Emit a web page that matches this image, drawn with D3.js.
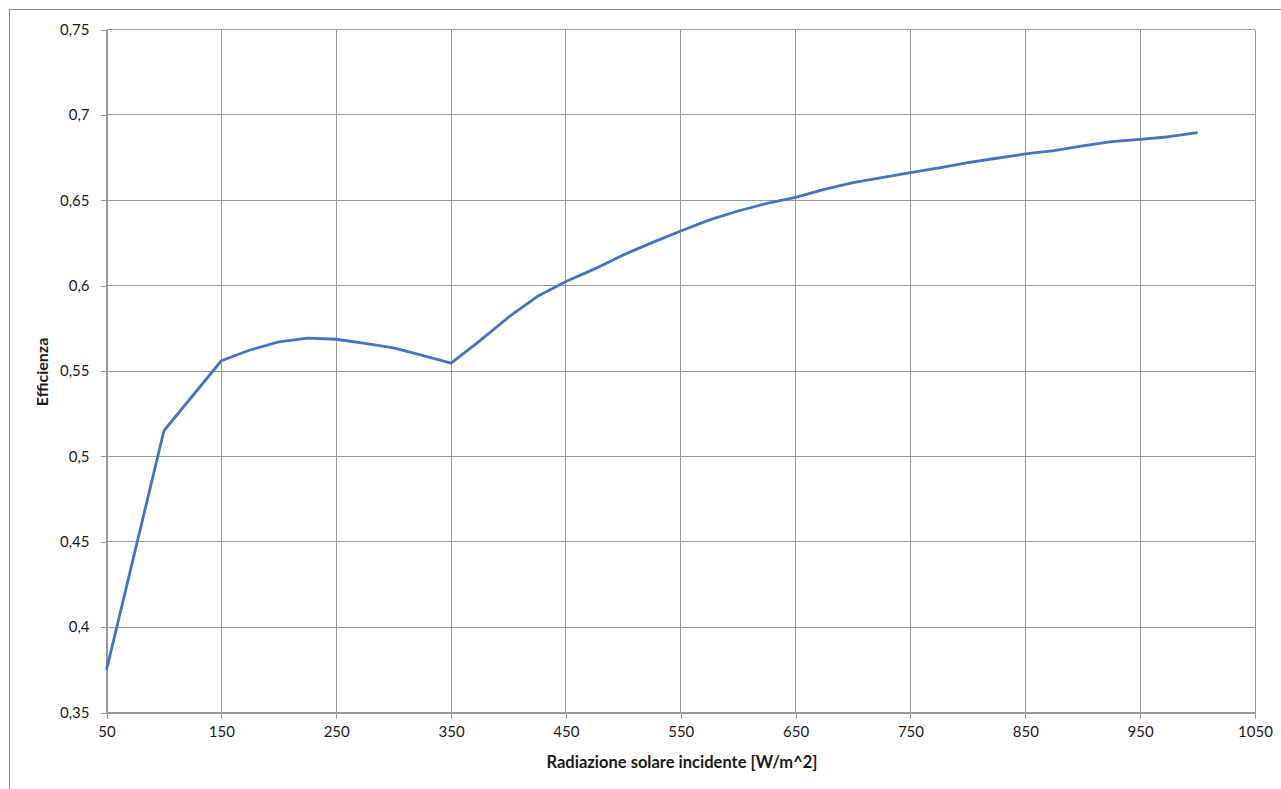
<!DOCTYPE html>
<html>
<head>
<meta charset="utf-8">
<script src="https://cdn.jsdelivr.net/npm/d3@7"></script>
<style>
  html, body { margin: 0; padding: 0; background: #fff; }
  svg { display: block; }
  text { font-family: Lato, "Open Sans", "DejaVu Sans", sans-serif; fill: #1a1a1a; }
</style>
</head>
<body>
<svg id="chart" width="1281" height="789"></svg>
<script>
// Irradiance [W/m^2] and collector efficiency
const radiation = [50, 100, 150, 175, 200, 225, 250, 275, 300, 325, 350, 375, 400, 425, 450, 475, 500, 525, 550, 575, 600, 625, 650, 675, 700, 725, 750, 775, 800, 825, 850, 875, 900, 925, 950, 975, 1000];
const efficiency = [0.375, 0.515, 0.556, 0.5623, 0.567, 0.5693, 0.5686, 0.5662, 0.5635, 0.5592, 0.5546, 0.5676, 0.5815, 0.5936, 0.6024, 0.6098, 0.618, 0.6252, 0.632, 0.6385, 0.6437, 0.6482, 0.6517, 0.6564, 0.6603, 0.6632, 0.6662, 0.6690, 0.6720, 0.6746, 0.6771, 0.6790, 0.6818, 0.6843, 0.6857, 0.6872, 0.6896];
const xTicks = [50, 150, 250, 350, 450, 550, 650, 750, 850, 950, 1050];
const yTicks = [0.35, 0.4, 0.45, 0.5, 0.55, 0.6, 0.65, 0.7, 0.75];
const xTitle = "Radiazione solare incidente [W/m^2]";
const yTitle = "Efficienza";

const svg = d3.select("#chart");
const plot = { left: 106.5, top: 29.5, right: 1255, bottom: 712.5 };

// chart frame
svg.append("rect")
  .attr("x", 9.5).attr("y", 9.5)
  .attr("width", 1290).attr("height", 800)
  .attr("fill", "#fff").attr("stroke", "#8c8c8c").attr("stroke-width", 1);

const x = d3.scaleLinear().domain([50, 1050]).range([plot.left, plot.right]);
const y = d3.scaleLinear().domain([0.35, 0.75]).range([plot.bottom, plot.top]);

const fmt = d => String(+d.toFixed(2)).replace(".", ",");

// gridlines
const grid = svg.append("g").attr("stroke", "#999").attr("stroke-width", 1).attr("shape-rendering", "crispEdges");
grid.selectAll(".gx").data(xTicks).join("line")
  .attr("x1", d => x(d)).attr("x2", d => x(d))
  .attr("y1", plot.top).attr("y2", plot.bottom);
grid.selectAll(".gy").data(yTicks).join("line")
  .attr("y1", d => y(d)).attr("y2", d => y(d))
  .attr("x1", plot.left).attr("x2", plot.right);

// axes
const xAxis = svg.append("g")
  .attr("transform", `translate(0,${plot.bottom})`)
  .call(d3.axisBottom(x).tickValues(xTicks).tickSize(6).tickPadding(8).tickFormat(d => d));
const yAxis = svg.append("g")
  .attr("transform", `translate(${plot.left},0)`)
  .call(d3.axisLeft(y).tickValues(yTicks).tickSize(6).tickPadding(11).tickFormat(fmt));

[xAxis, yAxis].forEach(a => {
  a.select(".domain").attr("stroke", "#999").attr("shape-rendering", "crispEdges");
  a.selectAll(".tick line").attr("stroke", "#999").attr("shape-rendering", "crispEdges");
  a.selectAll(".tick text").attr("font-size", 15).attr("fill", "#1a1a1a")
    .attr("font-family", "Lato, 'Open Sans', sans-serif");
});

// efficiency curve
const line = d3.line().x((d, i) => x(radiation[i])).y(d => y(d));
svg.append("path")
  .datum(efficiency)
  .attr("d", line)
  .attr("fill", "none")
  .attr("stroke", "#4472c4")
  .attr("stroke-width", 2.8)
  .attr("stroke-linejoin", "round");

// axis titles
svg.append("text")
  .attr("x", 682).attr("y", 768)
  .attr("text-anchor", "middle")
  .attr("font-size", 16.5).attr("font-weight", "bold")
  .text(xTitle);
svg.append("text")
  .attr("transform", "translate(48,372) rotate(-90)")
  .attr("text-anchor", "middle")
  .attr("font-size", 16).attr("font-weight", "bold")
  .text(yTitle);
</script>
</body>
</html>
